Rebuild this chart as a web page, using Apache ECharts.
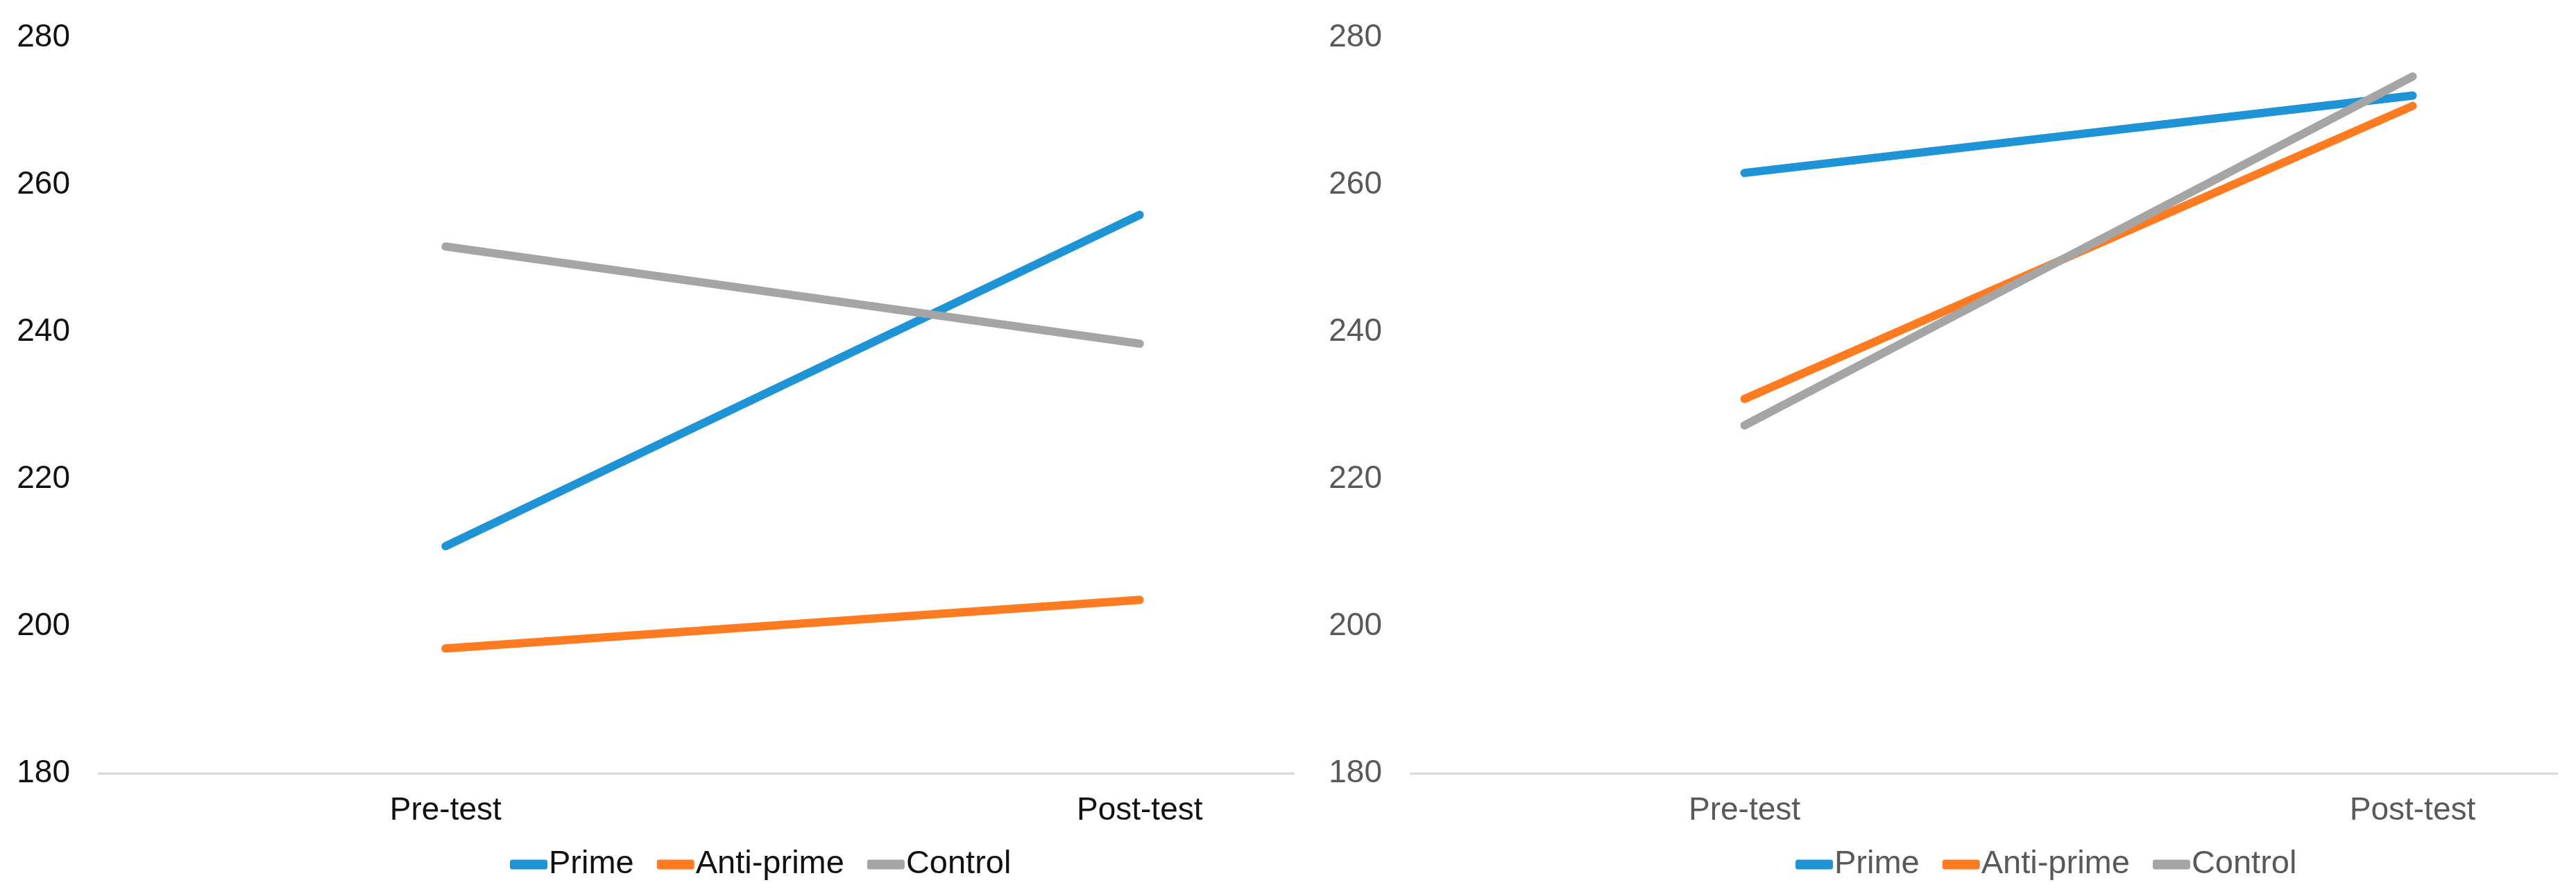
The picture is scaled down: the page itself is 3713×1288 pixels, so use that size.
<!DOCTYPE html>
<html>
<head>
<meta charset="utf-8">
<script src="https://cdn.jsdelivr.net/npm/echarts@6/dist/echarts.min.js"></script>
<style>
  html, body { margin: 0; padding: 0; background: #fff; }
  .panel { position: absolute; top: 0; height: 1288px; overflow: hidden; }
  .chart { width: 2200px; height: 1288px; }
  #leftPanel { left: 0; width: 1866px; }
  #rightPanel { left: 1866px; width: 1821px; }
</style>
</head>
<body>
<div class="panel" id="leftPanel"><div class="chart" id="leftChart"></div></div>
<div class="panel" id="rightPanel"><div class="chart" id="rightChart"></div></div>
<script>
const categories = ['Pre-test', 'Post-test'];
const seriesNames = ['Prime', 'Anti-prime', 'Control'];
const colors = ['#1E93D6', '#FF7B21', '#A5A5A5'];

// left panel
const leftPrime = [210.9, 255.9];
const leftAntiPrime = [197.0, 203.6];
const leftControl = [251.6, 238.4];

// right panel
const rightPrime = [261.6, 272.1];
const rightAntiPrime = [230.9, 270.7];
const rightControl = [227.3, 274.7];

const yMin = 180;
const yMax = 280;
const yStep = 20;

const buildOption = (data, cfg) => ({
  animation: false,
  color: colors,
  textStyle: { fontFamily: 'Liberation Sans, Arial, sans-serif' },
  grid: { left: cfg.gridLeft, width: cfg.gridWidth, top: 54, height: 1060.5 },
  legend: {
    data: seriesNames,
    left: cfg.legendLeft,
    top: 1217,
    icon: 'roundRect',
    itemWidth: 54,
    itemHeight: 14,
    itemGap: 33,
    textStyle: { fontSize: 47, color: cfg.textColor, padding: [0, 0, 0, -3] }
  },
  xAxis: {
    type: 'category',
    data: categories,
    boundaryGap: true,
    axisLine: { lineStyle: { color: '#d9d9d9', width: 3 } },
    axisTick: { show: false },
    axisLabel: { fontSize: 46, color: cfg.textColor, margin: 31 }
  },
  yAxis: {
    type: 'value',
    min: yMin,
    max: yMax,
    interval: yStep,
    axisLine: { show: false },
    axisTick: { show: false },
    splitLine: { show: false },
    axisLabel: { fontSize: 46, color: cfg.textColor, margin: 41 }
  },
  series: data.map((values, i) => ({
    name: seriesNames[i],
    type: 'line',
    data: values,
    showSymbol: false,
    lineStyle: { width: 12, cap: 'round', color: colors[i] }
  }))
});

const leftChart = echarts.init(document.getElementById('leftChart'));
leftChart.setOption(buildOption([leftPrime, leftAntiPrime, leftControl], {
  gridLeft: 142, gridWidth: 2001, legendLeft: 730, textColor: '#111111'
}));

const rightChart = echarts.init(document.getElementById('rightChart'));
rightChart.setOption(buildOption([rightPrime, rightAntiPrime, rightControl], {
  gridLeft: 167, gridWidth: 1926, legendLeft: 717, textColor: '#595959'
}));
</script>
</body>
</html>
